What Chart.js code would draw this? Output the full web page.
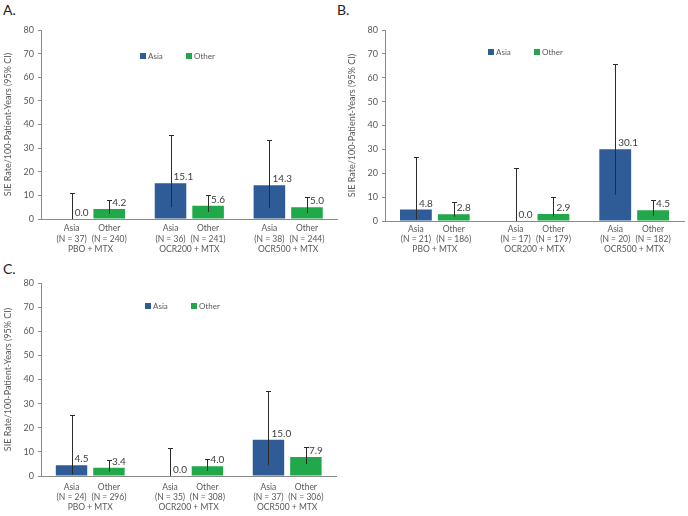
<!DOCTYPE html>
<html>
<head>
<meta charset="utf-8">
<script src="https://cdn.jsdelivr.net/npm/chart.js@4/dist/chart.umd.min.js"></script>
<style>
  html,body{margin:0;padding:0;background:#fff;}
  #wrap{position:relative;width:688px;height:516px;overflow:hidden;font-family:Lato,"Open Sans",sans-serif;}
  canvas{position:absolute;}
  .ttl{position:absolute;font-size:14px;color:#222;font-family:Lato,"Open Sans",sans-serif;}
</style>
</head>
<body>
<div id="wrap">
  <div class="ttl" style="left:3px;top:1px;">A.</div>
  <div class="ttl" style="left:337px;top:1px;">B.</div>
  <div class="ttl" style="left:3px;top:260px;">C.</div>
  <canvas id="cA" width="344" height="258" style="left:0;top:0;"></canvas>
  <canvas id="cB" width="344" height="258" style="left:344px;top:0;"></canvas>
  <canvas id="cC" width="344" height="258" style="left:0;top:258px;"></canvas>
</div>
<script>
// ---- data ----
const groups = ['PBO + MTX', 'OCR200 + MTX', 'OCR500 + MTX'];
const seriesNames = ['Asia', 'Other'];
const yTicks = [0, 10, 20, 30, 40, 50, 60, 70, 80];

// Panel A
const aAsia = [0.0, 15.1, 14.3];
const aAsiaLo = [0.0, 5.1, 4.6];
const aAsiaHi = [11.2, 35.4, 33.4];
const aOther = [4.2, 5.6, 5.0];
const aOtherLo = [2.1, 3.0, 2.5];
const aOtherHi = [8.2, 10.0, 9.2];
const aAsiaN = [37, 36, 38];
const aOtherN = [240, 241, 244];

// Panel B
const bAsia = [4.8, 0.0, 30.1];
const bAsiaLo = [0.6, 0.0, 10.9];
const bAsiaHi = [26.8, 22.1, 65.7];
const bOther = [2.8, 2.9, 4.5];
const bOtherLo = [1.8, 1.9, 2.2];
const bOtherHi = [8.0, 9.9, 9.0];
const bAsiaN = [21, 17, 20];
const bOtherN = [186, 179, 182];

// Panel C
const cAsia = [4.5, 0.0, 15.0];
const cAsiaLo = [0.6, 0.0, 4.5];
const cAsiaHi = [25.3, 11.4, 35.1];
const cOther = [3.4, 4.0, 7.9];
const cOtherLo = [1.8, 2.1, 4.9];
const cOtherHi = [6.5, 7.0, 12.1];
const cAsiaN = [24, 35, 37];
const cOtherN = [296, 308, 306];

// ---- styles ----
const FONT = 'Lato, "Open Sans", sans-serif';
const ASIA_COLOR = '#2F5B96';
const OTHER_COLOR = '#20A84A';
const AXIS_COLOR = '#8a8a8a';
const TEXT_COLOR = '#595959';

const panelPlugin = {
  id: 'panelExtras',
  afterDatasetsDraw(chart) {
    const ctx = chart.ctx;
    const y = chart.scales.y;
    const area = chart.chartArea;
    const extra = chart.options.plugins.panelExtras;
    ctx.save();
    chart.data.datasets.forEach((ds, di) => {
      const meta = chart.getDatasetMeta(di);
      meta.data.forEach((bar, i) => {
        const cx = Math.round(bar.x) + 0.5;
        const yLo = y.getPixelForValue(ds.lo[i]);
        const yHi = Math.round(y.getPixelForValue(ds.hi[i])) + 0.5;
        // error bar
        ctx.strokeStyle = '#2b2b2b';
        ctx.lineWidth = 1;
        ctx.beginPath();
        ctx.moveTo(cx, yLo);
        ctx.lineTo(cx, yHi);
        ctx.moveTo(cx - 2.5, yHi);
        ctx.lineTo(cx + 2.5, yHi);
        ctx.stroke();
        // value label
        ctx.fillStyle = '#404040';
        ctx.font = '10px ' + FONT;
        ctx.textAlign = 'left';
        ctx.textBaseline = 'alphabetic';
        const top = y.getPixelForValue(ds.data[i]);
        ctx.fillText(ds.data[i].toFixed(1), bar.x + 3, top - 3);
        // sub labels
        ctx.fillStyle = TEXT_COLOR;
        ctx.font = '8.5px ' + FONT;
        ctx.textAlign = 'center';
        ctx.textBaseline = 'middle';
        ctx.fillText(ds.label, bar.x, area.bottom + extra.sub1);
        ctx.fillText('(N = ' + ds.n[i] + ')', bar.x, area.bottom + extra.sub2);
      });
    });
    // legend
    let lx = area.left + extra.legX;
    const ly = area.top + extra.legY;
    ctx.font = '8px ' + FONT;
    ctx.textAlign = 'left';
    ctx.textBaseline = 'middle';
    chart.data.datasets.forEach((ds) => {
      ctx.fillStyle = ds.backgroundColor;
      ctx.fillRect(lx, ly - 3, 6, 6);
      ctx.fillStyle = TEXT_COLOR;
      ctx.fillText(ds.label, lx + 8, ly);
      lx += 46;
    });
    ctx.restore();
  }
};

function makePanel(id, asia, asiaLo, asiaHi, asiaN, other, otherLo, otherHi, otherN, geom) {
  return new Chart(document.getElementById(id), {
    type: 'bar',
    data: {
      labels: groups,
      datasets: [
        { label: seriesNames[0], data: asia, lo: asiaLo, hi: asiaHi, n: asiaN,
          backgroundColor: ASIA_COLOR, categoryPercentage: 0.76, barPercentage: 0.84 },
        { label: seriesNames[1], data: other, lo: otherLo, hi: otherHi, n: otherN,
          backgroundColor: OTHER_COLOR, categoryPercentage: 0.76, barPercentage: 0.84 }
      ]
    },
    options: {
      responsive: false,
      animation: false,
      devicePixelRatio: 1,
      layout: { padding: { left: 0, right: 4, top: geom.top, bottom: 0 } },
      plugins: {
        legend: { display: false },
        tooltip: { enabled: false },
        panelExtras: { legX: geom.legX, legY: geom.legY, sub1: geom.sub1, sub2: geom.sub2 }
      },
      scales: {
        x: {
          grid: { display: true, drawOnChartArea: false, drawTicks: false },
          border: { color: AXIS_COLOR, width: 1 },
          ticks: { color: TEXT_COLOR, font: { family: FONT, size: 8.5 }, padding: geom.grpPad, maxRotation: 0 },
          afterFit(s) { s.height = geom.xh; }
        },
        y: {
          min: 0, max: 80,
          afterBuildTicks(s) { s.ticks = yTicks.map(v => ({ value: v })); },
          ticks: { color: TEXT_COLOR, font: { family: FONT, size: 9 }, padding: 4 },
          grid: { drawOnChartArea: false, drawTicks: true, tickLength: 3, color: AXIS_COLOR },
          border: { color: AXIS_COLOR, width: 1 },
          title: { display: true, text: 'SIE Rate/100-Patient-Years (95% CI)', color: TEXT_COLOR,
                   font: { family: FONT, size: 9 }, padding: { top: 3, bottom: 0 } },
          afterFit(s) { s.width = 41; }
        }
      }
    },
    plugins: [panelPlugin]
  });
}

makePanel('cA', aAsia, aAsiaLo, aAsiaHi, aAsiaN, aOther, aOtherLo, aOtherHi, aOtherN,
  { top: 30, xh: 39, legX: 99, legY: 26, sub1: 9, sub2: 20, grpPad: 25 });
makePanel('cB', bAsia, bAsiaLo, bAsiaHi, bAsiaN, bOther, bOtherLo, bOtherHi, bOtherN,
  { top: 30, xh: 37, legX: 103, legY: 22, sub1: 8, sub2: 18, grpPad: 23 });
makePanel('cC', cAsia, cAsiaLo, cAsiaHi, cAsiaN, cOther, cOtherLo, cOtherHi, cOtherN,
  { top: 25, xh: 40, legX: 104, legY: 23, sub1: 11, sub2: 21, grpPad: 26 });
</script>
</body>
</html>
